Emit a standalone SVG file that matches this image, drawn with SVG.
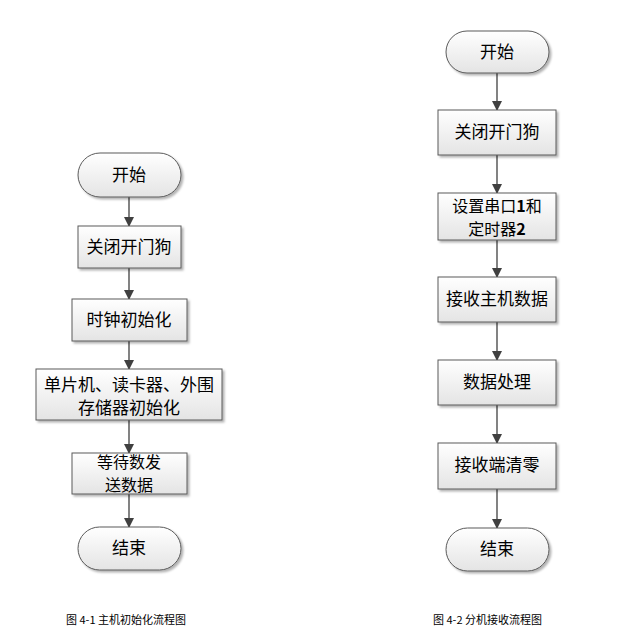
<svg xmlns="http://www.w3.org/2000/svg" width="624" height="637" viewBox="0 0 624 637">
<defs>
<linearGradient id="g" x1="0" y1="0" x2="0" y2="1"><stop offset="0" stop-color="#ffffff"/><stop offset="1" stop-color="#e4e4e4"/></linearGradient>
<marker id="a" markerWidth="10" markerHeight="10" refX="9" refY="5" orient="auto" markerUnits="userSpaceOnUse"><path d="M0,0 L10,5 L0,10 z" fill="#404040"/></marker>
<filter id="s" x="-10%" y="-10%" width="130%" height="140%"><feDropShadow dx="2" dy="2" stdDeviation="1" flood-color="#000" flood-opacity="0.3"/></filter>
</defs>
<style>
.n{fill:url(#g);stroke:#5a5a5a;stroke-width:1;filter:url(#s)}
.t{font-family:"Noto Sans CJK SC","Noto Sans",sans-serif;font-size:17px;fill:#000;text-anchor:middle}
.s{font-size:16px}
.c{font-family:"Noto Sans CJK SC","Liberation Sans",sans-serif;font-size:11px;fill:#000}
#conn line{stroke:#404040;stroke-width:1.3;marker-end:url(#a)}
</style>
<rect width="624" height="637" fill="#fff"/>
<g id="conn">
<line x1="129" y1="197" x2="129" y2="226"/>
<line x1="129" y1="268" x2="129" y2="299"/>
<line x1="129" y1="341" x2="129" y2="369"/>
<line x1="129" y1="420" x2="129" y2="453"/>
<line x1="129" y1="494" x2="129" y2="527"/>
<line x1="497" y1="73" x2="497" y2="110"/>
<line x1="497" y1="155" x2="497" y2="193"/>
<line x1="497" y1="240" x2="497" y2="277"/>
<line x1="497" y1="322" x2="497" y2="360"/>
<line x1="497" y1="405" x2="497" y2="443"/>
<line x1="497" y1="489" x2="497" y2="528"/>
</g>
<g id="l1"><rect class="n" x="78" y="153" width="103" height="44" rx="22"/><text class="t" x="129" y="181">开始</text></g>
<g id="l2"><rect class="n" x="78" y="226" width="103" height="42"/><text class="t" x="129" y="253">关闭开门狗</text></g>
<g id="l3"><rect class="n" x="72" y="299" width="115" height="42"/><text class="t" x="129" y="326">时钟初始化</text></g>
<g id="l4"><rect class="n" x="36" y="369" width="186" height="51"/><text class="t" x="129" y="391">单片机、读卡器、外围</text><text class="t" x="129" y="414">存储器初始化</text></g>
<g id="l5"><rect class="n" x="72" y="453" width="115" height="41"/><text class="t s" x="129" y="468">等待数发</text><text class="t s" x="129" y="491">送数据</text></g>
<g id="l6"><rect class="n" x="78" y="527" width="103" height="43" rx="21.5"/><text class="t" x="129" y="554">结束</text></g>
<g id="r1"><rect class="n" x="446" y="31" width="103" height="42" rx="21"/><text class="t" x="497" y="58">开始</text></g>
<g id="r2"><rect class="n" x="438" y="110" width="118" height="45"/><text class="t" x="497" y="138">关闭开门狗</text></g>
<g id="r3"><rect class="n" x="438" y="193" width="118" height="47"/><text class="t s" x="497" y="212">设置串口<tspan font-weight="bold">1</tspan>和</text><text class="t s" x="497" y="235">定时器<tspan font-weight="bold">2</tspan></text></g>
<g id="r4"><rect class="n" x="438" y="277" width="118" height="45"/><text class="t" x="497" y="305">接收主机数据</text></g>
<g id="r5"><rect class="n" x="438" y="360" width="118" height="45"/><text class="t" x="497" y="388">数据处理</text></g>
<g id="r6"><rect class="n" x="438" y="443" width="118" height="46"/><text class="t" x="497" y="471">接收端清零</text></g>
<g id="r7"><rect class="n" x="446" y="528" width="103" height="43" rx="21.5"/><text class="t" x="497" y="555">结束</text></g>
<text class="c" x="66" y="624">图 4-1 主机初始化流程图</text>
<text class="c" x="433" y="624">图 4-2 分机接收流程图</text>
</svg>
